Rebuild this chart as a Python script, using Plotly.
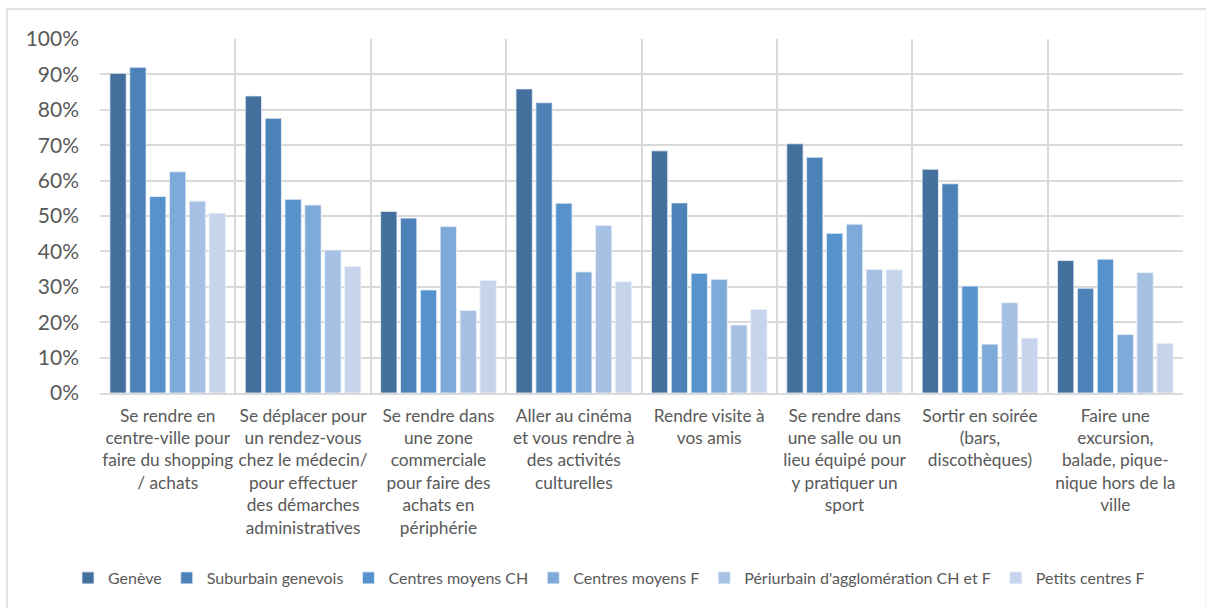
import plotly.graph_objects as go

categories = [
    "Se rendre en<br>centre-ville pour<br>faire du shopping<br>/ achats",
    "Se déplacer pour<br>un rendez-vous<br>chez le médecin/<br>pour effectuer<br>des démarches<br>administratives",
    "Se rendre dans<br>une zone<br>commerciale<br>pour faire des<br>achats en<br>périphérie",
    "Aller au cinéma<br>et vous rendre à<br>des activités<br>culturelles",
    "Rendre visite à<br>vos amis",
    "Se rendre dans<br>une salle ou un<br>lieu équipé pour<br>y pratiquer un<br>sport",
    "Sortir en soirée<br>(bars,<br>discothèques)",
    "Faire une<br>excursion,<br>balade, pique-<br>nique hors de la<br>ville",
]

series_names = ["Genève", "Suburbain genevois", "Centres moyens CH", "Centres moyens F",
                "Périurbain d'agglomération CH et F", "Petits centres F"]

geneve = [0.903, 0.839, 0.513, 0.859, 0.684, 0.704, 0.632, 0.374]
suburbain = [0.920, 0.776, 0.494, 0.820, 0.537, 0.666, 0.591, 0.296]
centres_ch = [0.555, 0.547, 0.291, 0.536, 0.338, 0.451, 0.302, 0.378]
centres_f = [0.625, 0.531, 0.470, 0.342, 0.321, 0.477, 0.138, 0.165]
periurbain = [0.542, 0.404, 0.233, 0.473, 0.192, 0.349, 0.255, 0.340]
petits = [0.508, 0.357, 0.318, 0.314, 0.236, 0.348, 0.155, 0.140]

colors = ["#43709D", "#4D82B8", "#5693CC", "#7EAADA", "#A6C1E4", "#C6D5EC"]

fig = go.Figure()
for name, vals, col in zip(series_names,
                           [geneve, suburbain, centres_ch, centres_f, periurbain, petits],
                           colors):
    fig.add_trace(go.Bar(x=categories, y=vals, name=name,
                         marker=dict(color=col, line=dict(color="#EAF0F8", width=0.8))))

W, H = 1206, 608
L, R, T, B = 100, 23, 39, 215
pw, ph = W - L - R, H - T - B

def px(x):
    return (x - L) / pw

def py(y):
    return (H - B - y) / ph

fig.update_layout(
    width=W, height=H,
    margin=dict(l=L, r=R, t=T, b=B),
    paper_bgcolor="white", plot_bgcolor="white",
    barmode="group", bargap=0.12, bargroupgap=0.18,
    font=dict(family="Lato, 'Open Sans', sans-serif", color="#595959", size=16),
    showlegend=True,
    legend=dict(orientation="h", x=0.47, xanchor="center", y=py(578), yanchor="middle",
                font=dict(size=16, color="#595959"), itemwidth=30, traceorder="normal"),
    shapes=[dict(type="rect", xref="paper", yref="paper",
                 x0=px(7), x1=px(1206.5), y0=py(620), y1=py(9),
                 line=dict(color="#D9D9D9", width=1.5), layer="below")],
)
fig.update_xaxes(tickson="boundaries", showgrid=True, gridcolor="#D9D9D9", gridwidth=1.5,
                 showline=True, linecolor="#D9D9D9", linewidth=1.5, ticks="",
                 tickangle=0, ticklabelstandoff=6, tickfont=dict(size=17.3, color="#595959"))
fig.update_yaxes(range=[0, 1.0], dtick=0.1, tickformat=".0%", showgrid=True,
                 gridcolor="#D9D9D9", gridwidth=1.5, zeroline=False, showline=False,
                 ticklabelstandoff=20, tickfont=dict(size=21, color="#595959"))

fig.write_html("out.html")
